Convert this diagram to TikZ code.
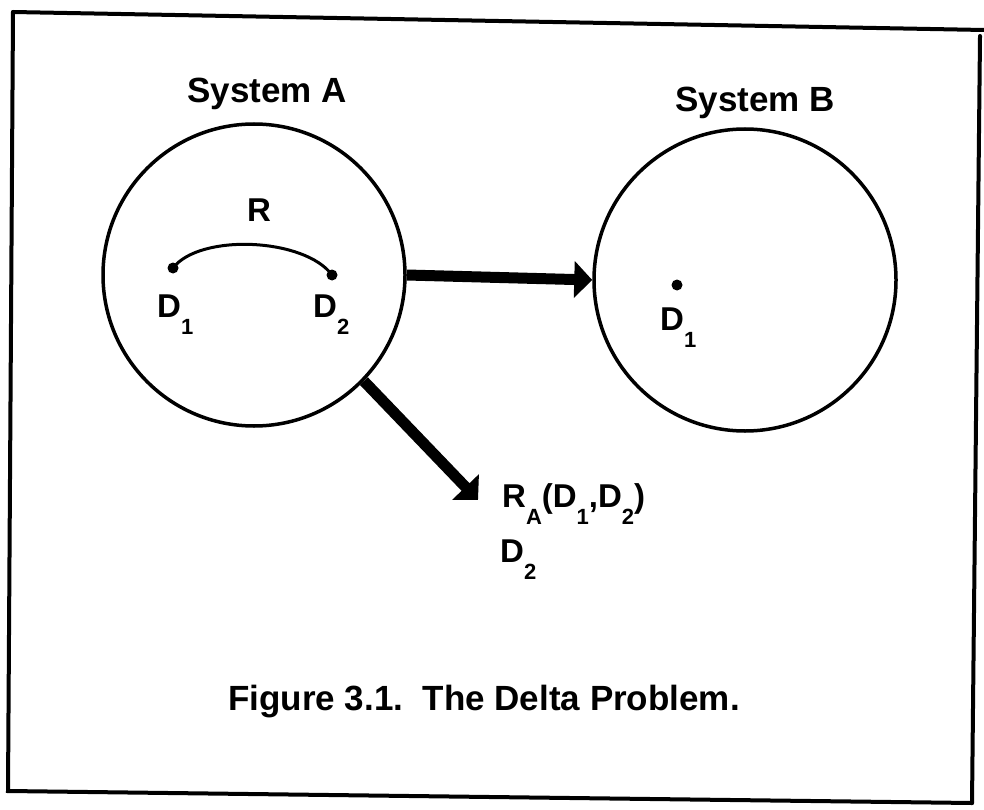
\documentclass[tikz,border=0pt]{standalone}
\usepackage{fontspec}
\setmainfont{Liberation Sans}
\usetikzlibrary{arrows.meta}
\newcommand{\lsub}[1]{\raisebox{-17pt}{\fontsize{22}{22}\selectfont #1}}
\begin{document}
\begin{tikzpicture}[x=1pt,y=-1pt,
  frameline/.style={line width=4pt, line cap=round},
  sysring/.style={circle, draw, line width=3.5pt, minimum size=302pt, inner sep=0pt},
  ddot/.style={circle, fill, minimum size=11pt, inner sep=0pt},
  lbl/.style={inner sep=0pt, anchor=base west, font=\fontsize{33}{36}\selectfont\bfseries},
  titletext/.style={inner sep=0pt, font=\fontsize{35}{40}\selectfont\bfseries},
  bigarrow/.style={line width=11pt, -{Triangle[length=18pt,width=36pt]}},
  relarc/.style={line width=3pt}]
\useasboundingbox (0,0) rectangle (984,810);
% frame
\coordinate (c1) at (13,12);
\coordinate (c2) at (984,30);
\coordinate (c3) at (980,36);
\coordinate (c4) at (972,803);
\coordinate (c5) at (8,791);
\draw[frameline] (c1) -- (c2);
\draw[frameline] (c3) -- (c4);
\draw[frameline] (c1) -- (c5) -- (c4);
% systems
\node[sysring] (A) at (254,275) {};
\node[sysring] (B) at (745,280) {};
\node[titletext, anchor=base west] (tA) at (187,103) {System A};
\node[titletext, anchor=base west] (tB) at (675,112) {System B};
% inside A
\node[ddot] (a1) at (173,268) {};
\node[ddot] (a2) at (332,275) {};
\draw[relarc] (a1.center) .. controls (200,233) and (305,238) .. (a2.center);
\node[lbl] (lR) at (247,222) {R};
\node[lbl] (la1) at (157,317) {D\lsub{1}};
\node[lbl] (la2) at (313,317) {D\lsub{2}};
% inside B
\node[ddot] (b1) at (677,285) {};
\node[lbl] (lb1) at (660,330) {D\lsub{1}};
% arrows
\draw[bigarrow] (A.east) -- (B.west);
\coordinate (tipR) at (478,500);
\draw[bigarrow] (A.-44) -- (tipR);
\node[lbl] (lres) at (502,507) {R\lsub{A}(D\lsub{1},D\lsub{2})};
\node[lbl] (lres2) at (500,562) {D\lsub{2}};
% caption
\node[titletext, anchor=base] (cap) at (484,710) {Figure 3.1.\ \ The Delta Problem.};
\end{tikzpicture}
\end{document}
